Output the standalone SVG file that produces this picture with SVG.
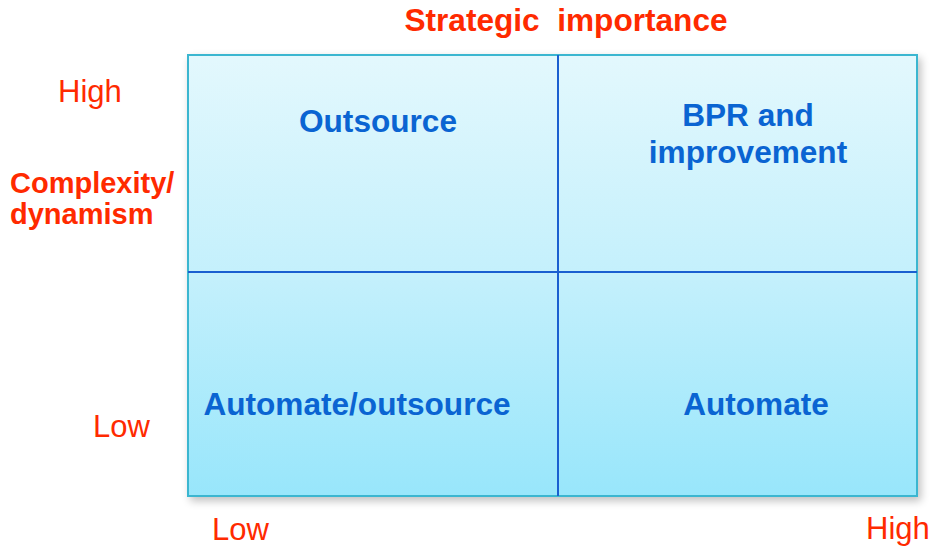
<svg xmlns="http://www.w3.org/2000/svg" width="932" height="548" viewBox="0 0 932 548">
<defs>
<linearGradient id="bg" x1="0" y1="0" x2="0" y2="1">
<stop offset="0" stop-color="#e3f8fd"/>
<stop offset="0.5" stop-color="#c4f0fc"/>
<stop offset="1" stop-color="#98e6fb"/>
</linearGradient>
<filter id="sh" x="-5%" y="-5%" width="112%" height="115%">
<feGaussianBlur in="SourceAlpha" stdDeviation="4"/>
<feOffset dx="3" dy="4"/>
<feComponentTransfer><feFuncA type="linear" slope="0.25"/></feComponentTransfer>
<feMerge><feMergeNode/><feMergeNode in="SourceGraphic"/></feMerge>
</filter>
</defs>
<style>
.ax{font-family:"Liberation Sans",Arial,sans-serif;fill:#ff2a00;font-size:31px}
.axb{font-family:"Liberation Sans",Arial,sans-serif;fill:#ff2a00;font-size:29px;font-weight:bold}
.q{font-family:"Liberation Sans",Arial,sans-serif;fill:#0a64d2;font-size:31.6px;font-weight:bold;text-anchor:middle}
.div{stroke:#1a5fd0;stroke-width:2;fill:none}
</style>
<g id="matrix">
<rect x="188" y="55" width="729" height="441" fill="url(#bg)" stroke="#3ab6d0" stroke-width="2" filter="url(#sh)"/>
</g>
<g id="connectors">
<line class="div" x1="558" y1="55" x2="558" y2="496"/>
<line class="div" x1="188" y1="272" x2="917" y2="272"/>
</g>
<g id="q-outsource"><text class="q" x="378" y="132">Outsource</text></g>
<g id="q-bpr"><text class="q" x="748" y="126">BPR and</text><text class="q" x="748" y="163">improvement</text></g>
<g id="q-autoout"><text class="q" x="357" y="415">Automate/outsource</text></g>
<g id="q-auto"><text class="q" x="756" y="415">Automate</text></g>
<g id="labels">
<text class="axb" x="566" y="31" text-anchor="middle" style="font-size:31.6px" xml:space="preserve">Strategic  importance</text>
<text class="ax" x="58" y="102">High</text>
<text class="axb" x="10" y="193">Complexity/</text>
<text class="axb" x="10" y="224">dynamism</text>
<text class="ax" x="93" y="437">Low</text>
<text class="ax" x="212" y="540">Low</text>
<text class="ax" x="866" y="539">High</text>
</g>
</svg>
